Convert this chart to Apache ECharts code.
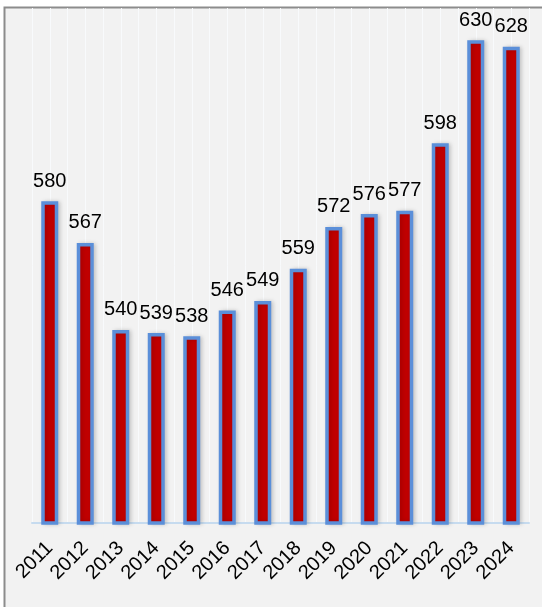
<!DOCTYPE html>
<html><head><meta charset="utf-8">
<script src="https://cdn.jsdelivr.net/npm/echarts@6/dist/echarts.min.js"></script>
<style>html,body{margin:0;padding:0;background:#fff}#c{width:542px;height:607px}</style>
</head><body><div id="c"></div>
<script>
var years = ['2011','2012','2013','2014','2015','2016','2017','2018','2019','2020','2021','2022','2023','2024'];
var values = [580,567,540,539,538,546,549,559,572,576,577,598,630,628];
var halfTicks = [];
for (var i = 0; i < years.length * 2; i++) halfTicks.push('');
var chart = echarts.init(document.getElementById('c'));
var font = '"Liberation Sans",Arial,sans-serif';
chart.setOption({
  animation: false,
  graphic: [{type:'rect', z:-10, shape:{x:4.5,y:7.5,width:540,height:604}, style:{fill:'#f2f2f2', stroke:'#8c8c8c', lineWidth:2}}],
  grid: {left: 32, right: 13, top: 8, bottom: 84},
  xAxis: [{
    type: 'category', data: years,
    axisLine: {show: true, lineStyle: {color: '#c6dbef', width: 2}},
    axisTick: {show: false},
    axisLabel: {rotate: 45, margin: 22, fontSize: 20, color: '#000', fontFamily: font, interval: 0},
    splitLine: {show: false}
  },{
    type: 'category', data: halfTicks, position: 'bottom', boundaryGap: true,
    axisLine: {show: false}, axisTick: {show: false}, axisLabel: {show: false},
    splitLine: {show: true, interval: 0, lineStyle: {color: '#f8fafc', width: 1}}
  }],
  yAxis: {type: 'value', min: 480, max: 640, show: false, splitLine: {show: false}},
  series: [{
    type: 'bar', data: values, barWidth: 17, xAxisIndex: 0,
    itemStyle: {color: '#c00000', borderColor: '#5b8fd9', borderWidth: 3.5, shadowColor: 'rgba(0,0,0,0.15)', shadowBlur: 4, shadowOffsetX: 2},
    label: {show: true, position: 'top', distance: 10, fontSize: 20, color: '#000', fontFamily: font}
  }]
});
</script></body></html>
